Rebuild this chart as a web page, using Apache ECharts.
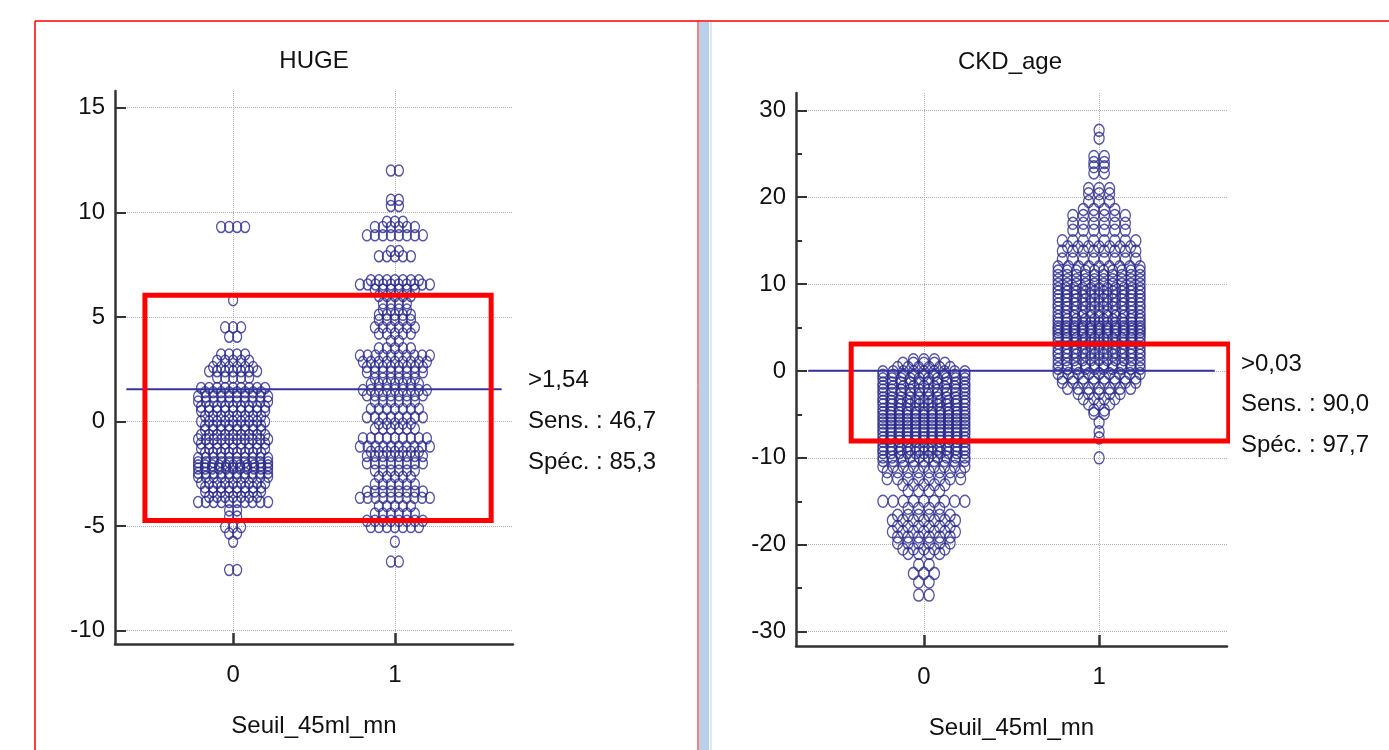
<!DOCTYPE html>
<html>
<head>
<meta charset="utf-8">
<script src="https://cdn.jsdelivr.net/npm/echarts@6/dist/echarts.min.js"></script>
<style>
html, body { margin: 0; padding: 0; background: #fff; }
#chart { width: 1389px; height: 750px; }
</style>
</head>
<body>
<div id="chart"></div>
<script>
// dot plot rows: [value, number of dots at that value]
var categories = ['0', '1'];

var hugeRows0 = [
  [9.3, 4], [5.8, 1], [4.5, 3], [4.05, 2], [3.2, 4], [2.9, 5], [2.6, 6], [2.4, 7], [2.1, 5],
  [1.6, 9], [1.4, 8], [1.2, 10], [0.95, 10], [0.7, 9], [0.5, 9], [0.25, 8], [0.0, 9], [-0.2, 8],
  [-0.4, 8], [-0.65, 9], [-0.85, 10], [-1.05, 9], [-1.3, 9], [-1.5, 8], [-1.75, 10], [-1.95, 10],
  [-2.1, 11], [-2.25, 11], [-2.45, 10], [-2.65, 10], [-2.95, 9], [-3.15, 8], [-3.35, 8], [-3.6, 7],
  [-3.85, 10], [-4.25, 2], [-4.55, 2], [-5.05, 3], [-5.35, 2], [-5.75, 1], [-7.1, 2]
];
var hugeRows1 = [
  [12.0, 2], [10.6, 2], [10.3, 2], [9.55, 3], [9.3, 6], [8.9, 8], [8.15, 2], [7.9, 5], [6.75, 7],
  [6.55, 10], [6.3, 6], [6.0, 5], [5.65, 4], [5.35, 4], [5.1, 5], [4.85, 5], [4.5, 6], [4.2, 5],
  [3.85, 2], [3.5, 5], [3.15, 10], [2.85, 9], [2.6, 8], [2.35, 8], [2.05, 6], [1.8, 7], [1.5, 9],
  [1.25, 8], [0.95, 6], [0.6, 7], [0.2, 8], [-0.1, 5], [-0.35, 6], [-0.8, 9], [-1.2, 10], [-1.45, 7],
  [-1.65, 8], [-2.0, 8], [-2.35, 6], [-2.65, 5], [-3.0, 6], [-3.35, 8], [-3.65, 10], [-4.05, 5],
  [-4.4, 6], [-4.75, 8], [-5.05, 7], [-5.75, 1], [-6.7, 2]
];
var ckdRows0 = [
  [1.3, 3], [0.9, 5], [0.4, 6], [-0.1, 9], [-0.5, 9], [-0.9, 10], [-1.4, 10], [-1.8, 9], [-2.2, 10],
  [-2.6, 10], [-3.1, 10], [-3.5, 11], [-3.9, 10], [-4.4, 11], [-4.8, 11], [-5.2, 11], [-5.6, 11],
  [-6.0, 11], [-6.4, 11], [-6.8, 11], [-7.2, 11], [-7.7, 11], [-8.1, 11], [-8.6, 11], [-9.0, 10],
  [-9.4, 11], [-9.9, 10], [-10.3, 9], [-11.0, 9], [-11.6, 8], [-12.4, 8], [-13.1, 5], [-13.8, 4],
  [-15.0, 9], [-15.8, 4], [-16.6, 6], [-17.2, 7], [-17.9, 6], [-18.5, 7], [-19.1, 6], [-19.8, 6],
  [-20.5, 5], [-21.0, 4], [-22.3, 2], [-23.3, 3], [-24.3, 2], [-25.8, 2]
];
var ckdRows1 = [
  [27.7, 1], [26.8, 1], [24.7, 2], [24.0, 2], [23.5, 2], [22.8, 2], [21.0, 3], [20.4, 3], [19.5, 3],
  [18.6, 4], [17.9, 6], [17.0, 6], [16.2, 6], [15.0, 8], [14.3, 7], [13.8, 8], [12.9, 8], [12.0, 9],
  [11.5, 10], [11.0, 10], [10.5, 10], [10.0, 10], [9.5, 11], [9.1, 10], [8.6, 11], [8.2, 10],
  [7.7, 11], [7.3, 10], [6.8, 11], [6.3, 11], [5.9, 10], [5.5, 11], [5.1, 11], [4.8, 11], [4.5, 11],
  [4.1, 11], [3.7, 10], [3.2, 11], [2.7, 10], [2.2, 11], [1.8, 10], [1.3, 11], [0.8, 10], [0.3, 10],
  [-0.3, 9], [-0.8, 8], [-1.3, 8], [-2.0, 7], [-2.6, 5], [-3.2, 4], [-3.8, 3], [-4.5, 2], [-4.9, 2],
  [-5.9, 1], [-7.0, 1], [-7.7, 1], [-10.0, 1]
];

var hugeCut = 1.54;
var ckdCut = 0.03;
var hugeText = ['>1,54', 'Sens. : 46,7', 'Spéc. : 85,3'];
var ckdText = ['>0,03', 'Sens. : 90,0', 'Spéc. : 97,7'];
var hugeTicks = [-10, -5, 0, 5, 10, 15];
var ckdTicks = [-30, -20, -10, 0, 10, 20, 30];
var ckdMinorTicks = [-25, -15, -5, 5, 15, 25];

var FONT = '"Liberation Sans", Arial, sans-serif';
var FS = 24;
var TXT = '#111';
var NAVY = '#2a2a8c';
// open ellipse drawn with bezier curves (box 10 x 12)
var ELLIPSE = 'path://M5,0C7.76,0 10,2.69 10,6C10,9.31 7.76,12 5,12C2.24,12 0,9.31 0,6C0,2.69 2.24,0 5,0Z';

// spread dots of one row side by side around the category;
// sparse rows keep a fixed gap, full rows are squeezed into the column width
function swarm(rows, cat, pxPerUnit, gap, span) {
  var out = [];
  rows.forEach(function (r) {
    var n = r[1];
    var step = n > 1 ? Math.min(gap, span / (n - 1)) : 0;
    for (var i = 0; i < n; i++) {
      out.push([cat + (i - (n - 1) / 2) * step / pxPerUnit, r[0]]);
    }
  });
  return out;
}

// red frame as a closed polyline (first edge repeated so the corner joins)
function frame(x0, x1, y0, y1) {
  return [[x0, y0], [x1, y0], [x1, y1], [x0, y1], [x0, y0], [x1, y0]];
}

function xAxisOpt(grid) {
  return {
    gridIndex: grid, type: 'value', min: -0.73, max: 1.73,
    name: 'Seuil_45ml_mn', nameLocation: 'middle', nameGap: 70,
    nameTextStyle: { fontSize: FS, color: TXT, fontFamily: FONT },
    axisLine: { onZero: false, lineStyle: { color: '#333', width: 2.5 } },
    axisTick: { inside: true, length: 11, customValues: [0, 1], lineStyle: { color: '#333', width: 2.5 } },
    axisLabel: { customValues: [0, 1], margin: 19, fontSize: FS, color: TXT, fontFamily: FONT,
      formatter: function (v) { return categories[v]; } },
    splitLine: { show: true, lineStyle: { type: 'dotted', color: '#b0b0b0', width: 1 } }
  };
}

function yAxisOpt(grid, min, max, ticks) {
  return {
    gridIndex: grid, type: 'value', position: 'left', min: min, max: max,
    axisLine: { show: true, onZero: false, lineStyle: { color: '#333', width: 2.5 } },
    axisTick: { show: true, inside: true, length: 11, customValues: ticks, lineStyle: { color: '#333', width: 2 } },
    axisLabel: { customValues: ticks, margin: 10, fontSize: FS, color: TXT, fontFamily: FONT },
    splitLine: { show: true, lineStyle: { type: 'dotted', color: '#b0b0b0', width: 1 } }
  };
}

function dots(name, data, grid, size) {
  return {
    name: name, type: 'scatter', xAxisIndex: grid, yAxisIndex: grid === 0 ? 0 : 1,
    data: data, symbol: ELLIPSE, symbolSize: size, z: 2,
    itemStyle: { color: 'rgba(0,0,0,0)', borderColor: NAVY, borderWidth: 1.4 }
  };
}

function cutLine(cut, grid) {
  return {
    type: 'line', xAxisIndex: grid, yAxisIndex: grid === 0 ? 0 : 1,
    data: [[-0.66, cut], [1.66, cut]], symbol: 'none', z: 3,
    lineStyle: { color: '#34349c', width: 2 }
  };
}

function redBox(box, grid) {
  return {
    type: 'line', xAxisIndex: grid, yAxisIndex: grid === 0 ? 0 : 1,
    data: frame(box[0], box[1], box[2], box[3]), symbol: 'none', z: 4,
    lineStyle: { color: '#ff0000', width: 5, join: 'miter' }
  };
}

function textLines(lines, x, ys) {
  return lines.map(function (t, i) {
    return { type: 'text', x: x, y: ys[i],
      style: { text: t, font: FS + 'px ' + FONT, fill: TXT, textVerticalAlign: 'middle' } };
  });
}

var chart = echarts.init(document.getElementById('chart'));

// pixels per x unit: grid width / (max - min)
var leftPx = 398 / 2.46;
var rightPx = 431 / 2.46;

var option = {
  animation: false,
  backgroundColor: '#fff',
  grid: [
    { left: 115, top: 91, width: 398, height: 553 },
    { left: 796, top: 93, width: 431, height: 553 }
  ],
  xAxis: [xAxisOpt(0), xAxisOpt(1)],
  yAxis: [
    yAxisOpt(0, -10.64, 15.8, hugeTicks),
    yAxisOpt(1, -31.66, 32, ckdTicks),
    {
      gridIndex: 1, type: 'value', position: 'left', min: -31.66, max: 32,
      axisLine: { show: false, onZero: false },
      axisTick: { show: true, inside: true, length: 6, customValues: ckdMinorTicks, lineStyle: { color: '#333', width: 2 } },
      axisLabel: { show: false }, splitLine: { show: false }
    }
  ],
  series: [
    dots('HUGE 0', swarm(hugeRows0, 0, leftPx, 8, 70), 0, [9, 11]),
    dots('HUGE 1', swarm(hugeRows1, 1, leftPx, 8, 70), 0, [9, 11]),
    dots('CKD 0', swarm(ckdRows0, 0, rightPx, 10.5, 82), 1, [10, 12]),
    dots('CKD 1', swarm(ckdRows1, 1, rightPx, 10.5, 82), 1, [10, 12]),
    cutLine(hugeCut, 0),
    cutLine(ckdCut, 1),
    redBox([-0.545, 1.595, -4.74, 6.03], 0),
    redBox([-0.415, 1.74, -8.07, 3.1], 1)
  ],
  graphic: [
    { type: 'rect', shape: { x: 699, y: 22, width: 10, height: 728 }, style: { fill: '#b9d0ea' } },
    { type: 'line', shape: { x1: 711, y1: 22, x2: 711, y2: 750 }, style: { stroke: '#dde7f3', lineWidth: 2 } },
    { type: 'line', shape: { x1: 35, y1: 21, x2: 1389, y2: 21 }, style: { stroke: '#ff0000', lineWidth: 1.5 } },
    { type: 'line', shape: { x1: 35, y1: 21, x2: 35, y2: 750 }, style: { stroke: '#ff0000', lineWidth: 1.5 } },
    { type: 'line', shape: { x1: 698, y1: 21, x2: 698, y2: 750 }, style: { stroke: '#ff0000', lineWidth: 1 } },
    { type: 'text', x: 314, y: 61, style: { text: 'HUGE', font: FS + 'px ' + FONT, fill: TXT, textAlign: 'center', textVerticalAlign: 'middle' } },
    { type: 'text', x: 1010, y: 62, style: { text: 'CKD_age', font: FS + 'px ' + FONT, fill: TXT, textAlign: 'center', textVerticalAlign: 'middle' } }
  ].concat(textLines(hugeText, 528, [380, 421, 462]))
   .concat(textLines(ckdText, 1241, [364, 404, 445]))
};

chart.setOption(option);
</script>
</body>
</html>
